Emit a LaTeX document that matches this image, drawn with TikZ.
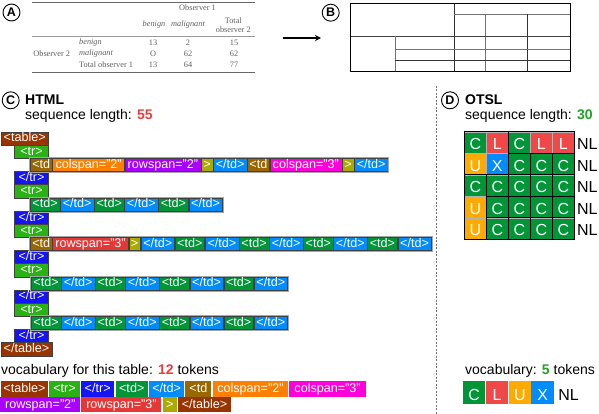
\documentclass[tikz,border=0pt]{standalone}
\usepackage{fontspec}
\setmainfont{Liberation Sans}
\newfontfamily\tabserif{Liberation Serif}
\usepackage{tikz}
\usetikzlibrary{arrows.meta, positioning}
\definecolor{ctable}{RGB}{153,51,0}
\definecolor{ctr}{RGB}{40,178,20}
\definecolor{ctrc}{RGB}{20,20,245}
\definecolor{ctd}{RGB}{0,150,55}
\definecolor{ctdc}{RGB}{0,140,255}
\definecolor{ctdo}{RGB}{153,102,0}
\definecolor{ccoltwo}{RGB}{255,128,0}
\definecolor{crowtwo}{RGB}{170,0,255}
\definecolor{cgt}{RGB}{170,170,0}
\definecolor{ccolthree}{RGB}{255,0,220}
\definecolor{crowthree}{RGB}{230,55,55}
\definecolor{cL}{RGB}{240,72,72}
\definecolor{cU}{RGB}{255,170,0}
\definecolor{numred}{RGB}{235,60,60}
\definecolor{numgreen}{RGB}{35,160,40}
\definecolor{tabgray}{RGB}{95,95,95}
\tikzset{
  tok/.style={rectangle, inner sep=0pt, minimum height=13.2pt,
    text height=9.2pt, text depth=2.6pt, text=white,
    font=\fontsize{12.6}{13}\selectfont, draw=black!75, line width=0.5pt},
  ktable/.style={tok, fill=ctable, minimum width=47.6pt},
  kctable/.style={tok, fill=ctable, minimum width=51pt},
  ktr/.style={tok, fill=ctr, minimum width=34pt},
  ktrc/.style={tok, fill=ctrc, minimum width=34pt},
  ktd/.style={tok, fill=ctd, minimum width=29.6pt},
  ktdc/.style={tok, fill=ctdc, minimum width=33.6pt},
  ktdo/.style={tok, fill=ctdo, minimum width=21.9pt},
  kcoltwo/.style={tok, fill=ccoltwo, minimum width=71.9pt},
  kcolthree/.style={tok, fill=ccolthree, minimum width=71.9pt},
  krowtwo/.style={tok, fill=crowtwo, minimum width=75.7pt},
  krowthree/.style={tok, fill=crowthree, minimum width=75.7pt},
  kgt/.style={tok, fill=cgt, minimum width=11.6pt},
  vtok/.style={tok, draw=none, minimum height=15.4pt},
  rowframe/.style={draw=black!35, line width=0.9pt},
  lab/.style={circle, draw=black, line width=0.9pt, inner sep=0pt,
    minimum size=17pt, font=\bfseries\fontsize{12.5}{13}\selectfont},
  head/.style={anchor=base west, inner sep=0pt, font=\fontsize{14}{16}\selectfont},
  tabtxt/.style={inner sep=0pt, text=tabgray, font=\tabserif\fontsize{8.3}{9.6}\selectfont},
  cell/.style={rectangle, inner sep=0pt, minimum width=22pt, minimum height=21.5pt,
    text height=14.9pt, text depth=0pt, text=white,
    font=\fontsize{16}{16}\selectfont, draw=black!30, line width=0.3pt},
  vcell/.style={cell, draw=none, minimum width=22.3pt, minimum height=23.3pt},
  nl/.style={inner sep=0pt, text height=14.9pt, text depth=0pt,
    font=\fontsize{16}{16}\selectfont},
  grid/.style={line width=1.2pt, color=black}
}
\begin{document}
\begin{tikzpicture}[x=1pt, y=-1pt]
  \useasboundingbox (0,0) rectangle (599,414);
  % (A) source table
  \node[lab] (la) at (11.5,12.5) {A};
  \draw[line width=0.8pt, color=black!60] (32,2.8) -- (255,2.8);
  \draw[line width=0.5pt, color=black!40] (32,36) -- (255,36);
  \draw[line width=0.8pt, color=black!60] (32,72.4) -- (255,72.4);
  \node[tabtxt] (obs1) at (197.5,7.5) {Observer 1};
  \node[tabtxt] (hb) at (154,25) {\itshape benign};
  \node[tabtxt] (hm) at (188,25) {\itshape malignant};
  \node[tabtxt, align=center] (ht) at (233.3,25.3) {Total\\observer 2};
  \node[tabtxt] (obs2) at (51.7,53.3) {Observer 2};
  \node[tabtxt, anchor=west] (rb) at (79,42.7) {\itshape benign};
  \node[tabtxt, anchor=west] (rm) at (79,53.3) {\itshape malignant};
  \node[tabtxt, anchor=west] (rt) at (79,64.7) {Total observer 1};
  \node[tabtxt] (v11) at (153,42.7) {13};
  \node[tabtxt] (v12) at (188,42.7) {2};
  \node[tabtxt] (v13) at (234,42.7) {15};
  \node[tabtxt] (v21) at (153,53.3) {O};
  \node[tabtxt] (v22) at (188,53.3) {62};
  \node[tabtxt] (v23) at (234,53.3) {62};
  \node[tabtxt] (v31) at (153,64.7) {13};
  \node[tabtxt] (v32) at (188,64.7) {64};
  \node[tabtxt] (v33) at (234,64.7) {77};
  % arrow A -> B
  \coordinate (arA) at (283,38);
  \coordinate (arB) at (321,38);
  \draw[-{Stealth[length=6pt,width=6pt]}, line width=1.8pt] (arA) -- (arB);
  % (B) structure
  \node[lab] (lb) at (330.7,12.7) {B};
  \draw[line width=0.9pt, color=black!80] (454.3,3.3) -- (454.3,71.7);
  \draw[line width=0.9pt, color=black!55] (454.3,14) -- (570.7,14);
  \draw[line width=0.9pt, color=black!55] (485.3,14) -- (485.3,71.7);
  \draw[line width=0.9pt, color=black!80] (527.7,14) -- (527.7,71.7);
  \draw[line width=0.9pt, color=black!75] (350.7,36) -- (570.7,36);
  \draw[line width=0.9pt, color=black!55] (395,36) -- (395,71.7);
  \draw[line width=0.9pt, color=black!55] (395,49) -- (570.7,49);
  \draw[line width=0.9pt, color=black!80] (395,60) -- (570.7,60);
  \draw[line width=1.4pt] (350.7,3.3) rectangle (570.7,71.7);
  % (C) HTML
  \node[lab] (lc) at (10.7,100.3) {C};
  \node[head, font=\bfseries\fontsize{14}{16}\selectfont] (html) at (25,104.3) {HTML};
  \node[head] (hlen) at (25,119.3) {sequence length: \textbf{\color{numred}55}};
  \node[ktable, anchor=west] (t0) at (0.7,138.7) {<table>};
  \node[ktr, anchor=west] (t1) at (14.3,151.9) {<tr>};
  \node[ktdo, anchor=west] (r1a) at (30,165.0) {<td};
  \node[kcoltwo, right=0pt of r1a] (r1b) {colspan="2"};
  \node[krowtwo, right=0pt of r1b] (r1c) {rowspan="2"};
  \node[kgt, right=0pt of r1c] (r1d) {>};
  \node[ktdc, right=0pt of r1d] (r1e) {</td>};
  \node[ktdo, right=0pt of r1e] (r1f) {<td};
  \node[kcolthree, right=0pt of r1f] (r1g) {colspan="3"};
  \node[kgt, right=0pt of r1g] (r1h) {>};
  \node[ktdc, right=0pt of r1h] (r1i) {</td>};
  \node[ktrc, anchor=west] (t3) at (14.3,178.2) {</tr>};
  \node[ktr, anchor=west] (t4) at (14.3,191.3) {<tr>};
  \node[ktd, anchor=west] (r2a) at (30,204.5) {<td>};
  \node[ktdc, right=0pt of r2a] (r2b) {</td>};
  \node[ktd, right=0pt of r2b] (r2c) {<td>};
  \node[ktdc, right=0pt of r2c] (r2d) {</td>};
  \node[ktd, right=0pt of r2d] (r2e) {<td>};
  \node[ktdc, right=0pt of r2e] (r2f) {</td>};
  \node[ktrc, anchor=west] (t6) at (14.3,217.7) {</tr>};
  \node[ktr, anchor=west] (t7) at (14.3,230.8) {<tr>};
  \node[ktdo, anchor=west] (r3a) at (30,244.0) {<td};
  \node[krowthree, right=0pt of r3a] (r3b) {rowspan="3"};
  \node[kgt, right=0pt of r3b] (r3c) {>};
  \node[ktdc, right=0pt of r3c] (r3d) {</td>};
  \node[ktd, right=0pt of r3d] (r3e) {<td>};
  \node[ktdc, right=0pt of r3e] (r3f) {</td>};
  \node[ktd, right=0pt of r3f] (r3g) {<td>};
  \node[ktdc, right=0pt of r3g] (r3h) {</td>};
  \node[ktd, right=0pt of r3h] (r3i) {<td>};
  \node[ktdc, right=0pt of r3i] (r3j) {</td>};
  \node[ktd, right=0pt of r3j] (r3k) {<td>};
  \node[ktdc, right=0pt of r3k] (r3l) {</td>};
  \node[ktrc, anchor=west] (t9) at (14.3,257.1) {</tr>};
  \node[ktr, anchor=west] (t10) at (14.3,270.3) {<tr>};
  \node[ktd, anchor=west] (r4a) at (31,283.5) {<td>};
  \node[ktdc, right=0pt of r4a] (r4b) {</td>};
  \node[ktd, right=0pt of r4b] (r4c) {<td>};
  \node[ktdc, right=0pt of r4c] (r4d) {</td>};
  \node[ktd, right=0pt of r4d] (r4e) {<td>};
  \node[ktdc, right=0pt of r4e] (r4f) {</td>};
  \node[ktd, right=0pt of r4f] (r4g) {<td>};
  \node[ktdc, right=0pt of r4g] (r4h) {</td>};
  \node[ktrc, anchor=west] (t12) at (14.3,296.6) {</tr>};
  \node[ktr, anchor=west] (t13) at (14.3,309.8) {<tr>};
  \node[ktd, anchor=west] (r5a) at (31,322.9) {<td>};
  \node[ktdc, right=0pt of r5a] (r5b) {</td>};
  \node[ktd, right=0pt of r5b] (r5c) {<td>};
  \node[ktdc, right=0pt of r5c] (r5d) {</td>};
  \node[ktd, right=0pt of r5d] (r5e) {<td>};
  \node[ktdc, right=0pt of r5e] (r5f) {</td>};
  \node[ktd, right=0pt of r5f] (r5g) {<td>};
  \node[ktdc, right=0pt of r5g] (r5h) {</td>};
  \node[ktrc, anchor=west] (t15) at (14.3,336.1) {</tr>};
  \node[kctable, anchor=west] (t16) at (0.7,349.3) {</table>};
  % grey frames round the cell rows
  \draw[rowframe] ([shift={(-0.7pt,0.7pt)}]r1a.north west) rectangle ([shift={(0.7pt,-0.7pt)}]r1i.south east);
  \draw[rowframe] ([shift={(-0.7pt,0.7pt)}]r2a.north west) rectangle ([shift={(0.7pt,-0.7pt)}]r2f.south east);
  \draw[rowframe] ([shift={(-0.7pt,0.7pt)}]r3a.north west) rectangle ([shift={(0.7pt,-0.7pt)}]r3l.south east);
  \draw[rowframe] ([shift={(-0.7pt,0.7pt)}]r4a.north west) rectangle ([shift={(0.7pt,-0.7pt)}]r4h.south east);
  \draw[rowframe] ([shift={(-0.7pt,0.7pt)}]r5a.north west) rectangle ([shift={(0.7pt,-0.7pt)}]r5h.south east);
  % HTML vocabulary
  \node[head] (hvoc) at (1,374) {vocabulary for this table: \textbf{\color{numred}12} tokens};
  \node[vtok, fill=ctable, minimum width=47pt, anchor=west] (va) at (0.7,389) {<table>};
  \node[vtok, fill=ctr, minimum width=30.7pt, right=0.7pt of va] (vb) {<tr>};
  \node[vtok, fill=ctrc, minimum width=33.3pt, right=0.7pt of vb] (vc) {</tr>};
  \node[vtok, fill=ctd, minimum width=32.4pt, right=0.7pt of vc] (vd) {<td>};
  \node[vtok, fill=ctdc, minimum width=35pt, right=0.7pt of vd] (ve) {</td>};
  \node[vtok, fill=ctdo, minimum width=26pt, right=0.7pt of ve] (vf) {<td};
  \node[vtok, fill=ccoltwo, minimum width=75.7pt, right=0.7pt of vf] (vg) {colspan="2"};
  \node[vtok, fill=ccolthree, minimum width=77pt, right=0.3pt of vg] (vh) {colspan="3"};
  \node[vtok, fill=crowtwo, minimum width=80pt, anchor=west] (vi) at (0,404.7) {rowspan="2"};
  \node[vtok, fill=crowthree, minimum width=80pt, right=0.7pt of vi] (vj) {rowspan="3"};
  \node[vtok, fill=cgt, minimum width=14.3pt, right=0.8pt of vj] (vk) {>};
  \node[vtok, fill=ctable, minimum width=52.6pt, right=0.7pt of vk] (vl) {</table>};
  % separator
  \coordinate (dTop) at (436,86);
  \coordinate (dBot) at (436,414);
  \draw[dash pattern=on 2pt off 1.5pt, line width=0.8pt, color=black!55] (dTop) -- (dBot);
  % (D) OTSL
  \node[lab] (ld) at (450,100.3) {D};
  \node[head, font=\bfseries\fontsize{14}{16}\selectfont] (otsl) at (465,104.3) {OTSL};
  \node[head] (olen) at (465,119.3) {sequence length: \textbf{\color{numgreen}30}};
  \node[cell, fill=ctd] (c11) at (475.3,142.45) {C};
  \node[cell, fill=cL] (c12) at (497.3,142.45) {L};
  \node[cell, fill=ctd] (c13) at (519.3,142.45) {C};
  \node[cell, fill=cL] (c14) at (541.3,142.45) {L};
  \node[cell, fill=cL] (c15) at (563.3,142.45) {L};
  \node[cell, fill=cU] (c21) at (475.3,163.95) {U};
  \node[cell, fill=ctdc] (c22) at (497.3,163.95) {X};
  \node[cell, fill=ctd] (c23) at (519.3,163.95) {C};
  \node[cell, fill=ctd] (c24) at (541.3,163.95) {C};
  \node[cell, fill=ctd] (c25) at (563.3,163.95) {C};
  \node[cell, fill=ctd] (c31) at (475.3,185.45) {C};
  \node[cell, fill=ctd] (c32) at (497.3,185.45) {C};
  \node[cell, fill=ctd] (c33) at (519.3,185.45) {C};
  \node[cell, fill=ctd] (c34) at (541.3,185.45) {C};
  \node[cell, fill=ctd] (c35) at (563.3,185.45) {C};
  \node[cell, fill=cU] (c41) at (475.3,206.95) {U};
  \node[cell, fill=ctd] (c42) at (497.3,206.95) {C};
  \node[cell, fill=ctd] (c43) at (519.3,206.95) {C};
  \node[cell, fill=ctd] (c44) at (541.3,206.95) {C};
  \node[cell, fill=ctd] (c45) at (563.3,206.95) {C};
  \node[cell, fill=cU] (c51) at (475.3,228.45) {U};
  \node[cell, fill=ctd] (c52) at (497.3,228.45) {C};
  \node[cell, fill=ctd] (c53) at (519.3,228.45) {C};
  \node[cell, fill=ctd] (c54) at (541.3,228.45) {C};
  \node[cell, fill=ctd] (c55) at (563.3,228.45) {C};
  % merged cell borders
  \draw[grid] (c12.north east) -- (c22.south east);
  \draw[grid] (c13.south west) -- (c15.south east);
  \draw[grid] (c23.north east) -- (c23.south east);
  \draw[grid] (c24.north east) -- (c24.south east);
  \draw[grid] (c21.south west) -- (c25.south east);
  \draw[grid] (c31.north east) -- (c51.south east);
  \draw[grid] (c32.north east) -- (c52.south east);
  \draw[grid] (c33.north east) -- (c53.south east);
  \draw[grid] (c34.north east) -- (c54.south east);
  \draw[grid] (c32.south west) -- (c35.south east);
  \draw[grid] (c42.south west) -- (c45.south east);
  \draw[grid] (c11.north west) rectangle (c55.south east);
  \node[nl, anchor=west, right=2.4pt of c15] (nl1) {NL};
  \node[nl, anchor=west, right=2.4pt of c25] (nl2) {NL};
  \node[nl, anchor=west, right=2.4pt of c35] (nl3) {NL};
  \node[nl, anchor=west, right=2.4pt of c45] (nl4) {NL};
  \node[nl, anchor=west, right=2.4pt of c55] (nl5) {NL};
  % OTSL vocabulary
  \node[head] (ovoc) at (465,374) {vocabulary: \textbf{\color{numgreen}5} tokens};
  \node[vcell, fill=ctd] (oc) at (474.2,392.7) {C};
  \node[vcell, fill=cL, right=0.2pt of oc] (ol) {L};
  \node[vcell, fill=cU, right=0.2pt of ol] (ou) {U};
  \node[vcell, fill=ctdc, right=0.2pt of ou] (ox) {X};
  \node[nl, right=4.3pt of ox] (onl) {NL};
\end{tikzpicture}
\end{document}
